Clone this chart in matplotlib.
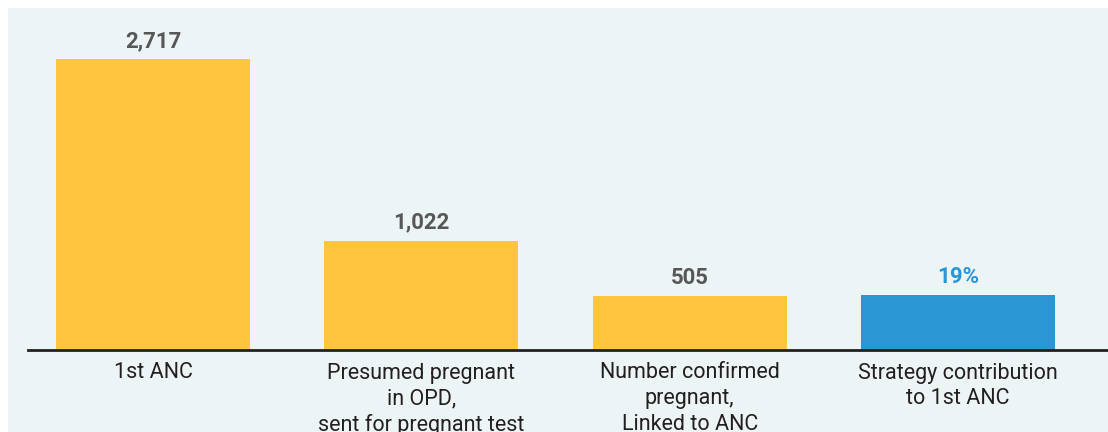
import matplotlib.pyplot as plt
from matplotlib.patches import Rectangle

plt.rcParams['font.family'] = ['Roboto', 'DejaVu Sans']

categories = ['1st ANC',
              'Presumed pregnant\nin OPD,\nsent for pregnant test',
              'Number confirmed\npregnant,\nLinked to ANC',
              'Strategy contribution\nto 1st ANC']
values = [2717, 1022, 505, 516]
labels = ['2,717', '1,022', '505', '19%']
bar_colors = ['#FEC53D', '#FEC53D', '#FEC53D', '#2A96D4']
label_colors = ['#555759', '#555759', '#555759', '#2A96D4']

W, H = 1108, 432
fig = plt.figure(figsize=(W / 100, H / 100), dpi=100)
fig.patch.set_facecolor('white')
fig.patches.append(Rectangle((8 / W, 0), 1 - 8 / W, 1 - 8 / H, transform=fig.transFigure,
                             facecolor='#EDF4F6', edgecolor='none', zorder=-5))

base = 350
ax = fig.add_axes([28 / W, (H - base) / H, 1 - 28 / W, (base - 8) / H])
ax.set_facecolor('none')
ax.set_zorder(2)

x = range(len(values))
ax.bar(x, values, width=0.723, color=bar_colors, zorder=2)
for i, v in enumerate(values):
    ax.text(i, v + 65, labels[i], ha='center', va='bottom', fontsize=16,
            fontweight='bold', color=label_colors[i])

ax.set_xlim(-0.466, 3.559)
ax.set_ylim(0, 3193)
ax.set_yticks([])
ax.set_xticks(list(x))
ax.set_xticklabels(categories, fontsize=15.5, color='#231F20', linespacing=1.3)
ax.tick_params(axis='x', length=0, pad=9)
for s in ['top', 'right', 'left']:
    ax.spines[s].set_visible(False)
ax.spines['bottom'].set_color('#231F20')
ax.spines['bottom'].set_linewidth(2)

fig.savefig('out.png', dpi=100)
